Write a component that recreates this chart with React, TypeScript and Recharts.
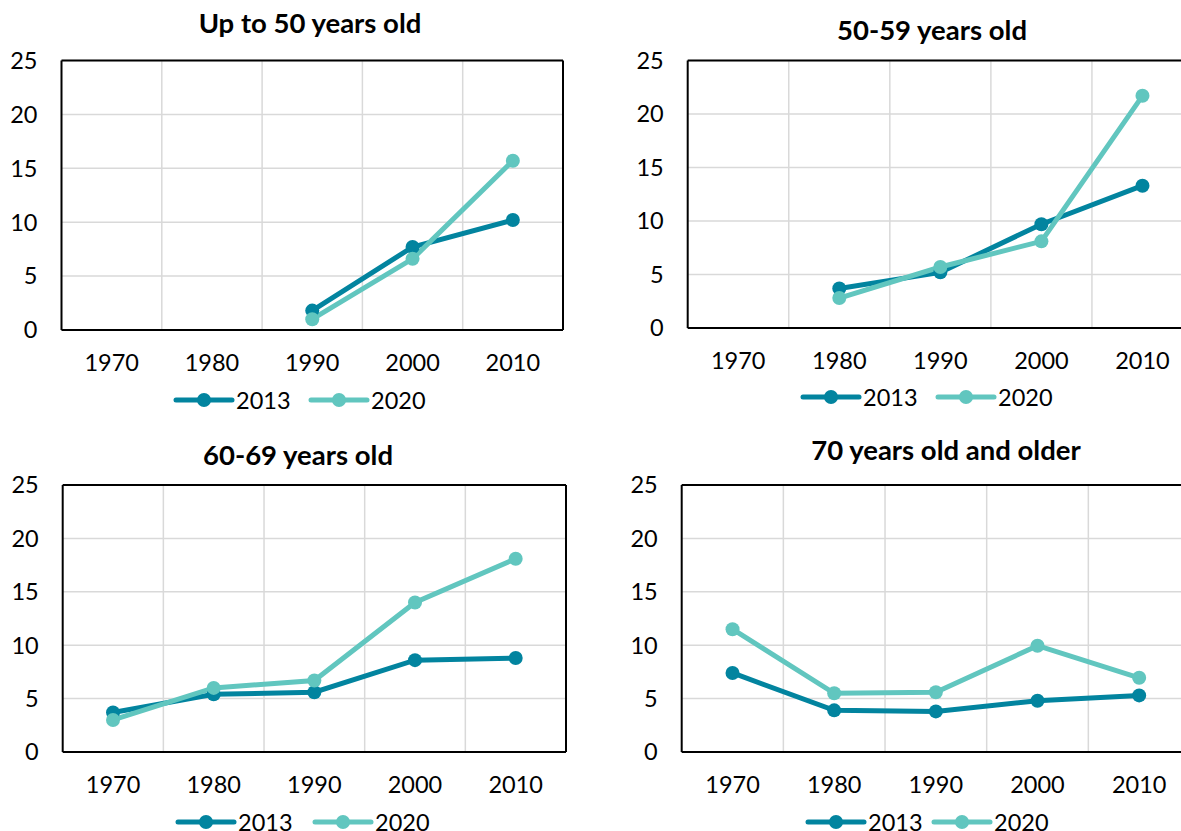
import { LineChart, Line, XAxis, YAxis, CartesianGrid } from 'recharts';

const YEARS = ['1970', '1980', '1990', '2000', '2010'];
const Y_TICKS = [0, 5, 10, 15, 20, 25];

const SERIES = [
  { key: 's2013', name: '2013', color: '#02849F' },
  { key: 's2020', name: '2020', color: '#61C6BF' },
];

// values (null = no point)
const upTo50_2013 = [null, null, 1.8, 7.7, 10.2];
const upTo50_2020 = [null, null, 1.0, 6.6, 15.7];
const age5059_2013 = [null, 3.7, 5.2, 9.7, 13.3];
const age5059_2020 = [null, 2.8, 5.7, 8.1, 21.7];
const age6069_2013 = [3.7, 5.4, 5.6, 8.6, 8.8];
const age6069_2020 = [3.0, 6.0, 6.7, 14.0, 18.1];
const age70_2013 = [7.4, 3.9, 3.8, 4.8, 5.3];
const age70_2020 = [11.5, 5.5, 5.6, 9.95, 6.95];

const TITLES = ['Up to 50 years old', '50-59 years old', '60-69 years old', '70 years old and older'];

const PANELS = [
  {
    title: TITLES[0], a: upTo50_2013, b: upTo50_2020,
    x: 0, y: 0, w: 590, h: 400,
    margin: { top: 60.5, right: 27, bottom: 30, left: 21.5 },
    titleX: 310, titleY: 33, legendX: 176, legendGap: 135, legendY: 400,
  },
  {
    title: TITLES[1], a: age5059_2013, b: age5059_2020,
    x: 590, y: 0, w: 620, h: 400,
    margin: { top: 60.5, right: 17, bottom: 32, left: 57.7 },
    titleX: 932, titleY: 40, legendX: 803, legendGap: 135, legendY: 397,
  },
  {
    title: TITLES[2], a: age6069_2013, b: age6069_2020,
    x: 0, y: 420, w: 590, h: 400,
    margin: { top: 65, right: 24, bottom: 28, left: 22.7 },
    titleX: 298, titleY: 465, legendX: 178, legendGap: 137, legendY: 822,
  },
  {
    title: TITLES[3], a: age70_2013, b: age70_2020,
    x: 590, y: 420, w: 620, h: 400,
    margin: { top: 65, right: 20, bottom: 28, left: 51.7 },
    titleX: 946, titleY: 460, legendX: 808, legendGap: 126, legendY: 822,
  },
];

const FONT = 'Lato, "Open Sans", sans-serif';

function Panel({ p }: { p: any }) {
  const data = YEARS.map((year, i) => ({ year, s2013: p.a[i], s2020: p.b[i] }));
  const plotW = p.w - p.margin.left - p.margin.right - 40;
  const pad = plotW / 10;

  return (
    <div style={{ position: 'absolute', left: p.x, top: p.y }}>
      <LineChart width={p.w} height={p.h} data={data} margin={p.margin}>
        <CartesianGrid
          stroke="#d9d9d9"
          strokeWidth={1.5}
          verticalCoordinatesGenerator={({ offset }: any) =>
            [1, 2, 3, 4].map((i) => offset.left + (i * offset.width) / 5)
          }
        />
        <CartesianGrid
          stroke="#000"
          strokeWidth={2}
          horizontalCoordinatesGenerator={({ offset }: any) => [offset.top, offset.top + offset.height]}
          verticalCoordinatesGenerator={({ offset }: any) => [offset.left, offset.left + offset.width]}
        />
        <XAxis
          dataKey="year"
          height={40}
          interval={0}
          axisLine={false}
          tickLine={false}
          tickSize={0}
          tickMargin={24}
          padding={{ left: pad, right: pad }}
          tick={{ fontSize: 23.5, fill: '#000', fontFamily: FONT }}
        />
        <YAxis
          width={40}
          domain={[0, 25]}
          ticks={Y_TICKS}
          axisLine={false}
          tickLine={false}
          tickSize={0}
          tickMargin={24}
          tick={{ fontSize: 23.5, fill: '#000', fontFamily: FONT }}
        />
        {SERIES.map((s) => (
          <Line
            key={s.key}
            dataKey={s.key}
            stroke={s.color}
            strokeWidth={5}
            dot={{ r: 7, fill: s.color, stroke: s.color, strokeWidth: 0 }}
            activeDot={false}
            isAnimationActive={false}
          />
        ))}
      </LineChart>
    </div>
  );
}

export default function App() {
  return (
    <div
      style={{
        position: 'absolute',
        left: 0,
        top: 0,
        width: 1181,
        height: 831,
        overflow: 'hidden',
        background: '#fff',
        fontFamily: FONT,
      }}
    >
      {PANELS.map((p) => (
        <Panel key={p.title} p={p} />
      ))}
      <svg width={1181} height={831} style={{ position: 'absolute', left: 0, top: 0, pointerEvents: 'none' }}>
        {PANELS.map((p) => (
          <g key={p.title}>
            <text x={p.titleX} y={p.titleY} textAnchor="middle" fontSize={27.5} fontWeight={700} fontFamily={FONT} fill="#000">
              {p.title}
            </text>
            {SERIES.map((s, i) => {
              const x0 = p.legendX + i * p.legendGap;
              return (
                <g key={s.key}>
                  <line x1={x0} x2={x0 + 56} y1={p.legendY} y2={p.legendY} stroke={s.color} strokeWidth={5} strokeLinecap="round" />
                  <circle cx={x0 + 28} cy={p.legendY} r={7} fill={s.color} />
                  <text x={x0 + 60} y={p.legendY + 8.5} fontSize={23.5} fontFamily={FONT} fill="#000">
                    {s.name}
                  </text>
                </g>
              );
            })}
          </g>
        ))}
      </svg>
    </div>
  );
}
